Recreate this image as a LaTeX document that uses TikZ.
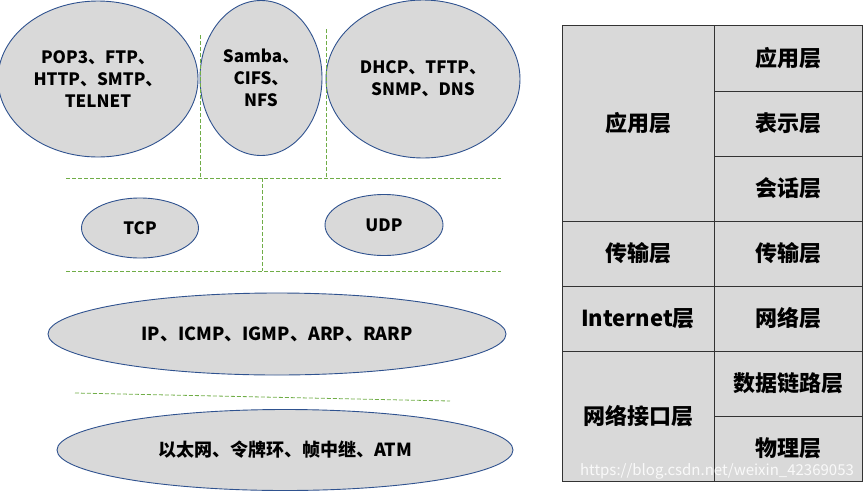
\documentclass[tikz,border=0pt]{standalone}
\usepackage{fontspec}
\newfontfamily\cjk{Noto Sans CJK SC}
\usetikzlibrary{shapes.geometric}
\definecolor{cellgray}{RGB}{217,217,217}
\definecolor{rimblue}{RGB}{47,82,143}
\definecolor{sepgreen}{RGB}{112,173,71}
\tikzset{
  proto/.style={ellipse, draw=rimblue, line width=0.9pt, fill=cellgray, inner sep=0pt, align=center, font=\cjk\bfseries\fontsize{17}{22}\selectfont},
  bigproto/.style={proto, font=\cjk\bfseries\fontsize{18}{22}\selectfont},
  layer/.style={rectangle, draw=black!80, line width=0.9pt, fill=cellgray, inner sep=0pt, font=\cjk\bfseries\fontsize{22}{26}\selectfont},
  sep/.style={draw=sepgreen, dash pattern=on 4pt off 2pt, line width=0.8pt},
}
\begin{document}
\begin{tikzpicture}[x=1pt, y=-1pt]
    \useasboundingbox (0,0) rectangle (863,491);
    % Application protocols: three ellipses on top
    \node[proto, minimum width=200pt, minimum height=156pt] (mail) at (98,79) {POP3、FTP、\\HTTP、SMTP、\\TELNET};
    \node[proto, minimum width=122pt, minimum height=155pt] (share) at (261,78) {Samba、\\CIFS、\\NFS};
    \node[proto, minimum width=194pt, minimum height=158pt] (conf) at (423,79) {DHCP、TFTP、\\SNMP、DNS};
    % Separators between the rows
    \draw[sep] (200,35) -- (200,178);
    \draw[sep] (326,29) -- (326,178);
    \draw[sep] (66,178) -- (501,178);
    \draw[sep] (262,178) -- (262,271);
    \draw[sep] (66,271) -- (501,271);
    \draw[sep] (75,393) -- (450,401);
    % Transport protocols
    \node[proto, minimum width=117pt, minimum height=60pt] (tcp) at (140,228) {TCP};
    \node[proto, minimum width=118pt, minimum height=61pt] (udp) at (384,225) {UDP};
    % Internet and link protocols
    \node[bigproto, minimum width=458pt, minimum height=82pt] (ip) at (277,334) {IP、ICMP、IGMP、ARP、RARP};
    \node[bigproto, minimum width=456pt, minimum height=81pt] (link) at (285,450) {以太网、令牌环、帧中继、ATM};
    % TCP/IP layers (left column)
    \node[layer, minimum width=152pt, minimum height=196pt] (tApp) at (638,123) {应用层};
    \node[layer, minimum width=152pt, minimum height=65pt] (tTrans) at (638,253.5) {传输层};
    \node[layer, minimum width=152pt, minimum height=65pt] (tNet) at (638,318.5) {Internet层};
    \node[layer, minimum width=152pt, minimum height=130pt] (tLink) at (638,416) {网络接口层};
    % OSI layers (right column)
    \node[layer, minimum width=148pt, minimum height=66pt] (oApp) at (788,58) {应用层};
    \node[layer, minimum width=148pt, minimum height=65pt] (oPres) at (788,123.5) {表示层};
    \node[layer, minimum width=148pt, minimum height=65pt] (oSess) at (788,188.5) {会话层};
    \node[layer, minimum width=148pt, minimum height=65pt] (oTrans) at (788,253.5) {传输层};
    \node[layer, minimum width=148pt, minimum height=65pt] (oNet) at (788,318.5) {网络层};
    \node[layer, minimum width=148pt, minimum height=65pt] (oLink) at (788,383.5) {数据链路层};
    \node[layer, minimum width=148pt, minimum height=65pt] (oPhys) at (788,448.5) {物理层};
    % Watermark
    \node[font=\cjk\fontsize{15}{15}\selectfont, text=white, opacity=0.85] (mark) at (717,471) {https://blog.csdn.net/weixin\_42369053};
\end{tikzpicture}
\end{document}
